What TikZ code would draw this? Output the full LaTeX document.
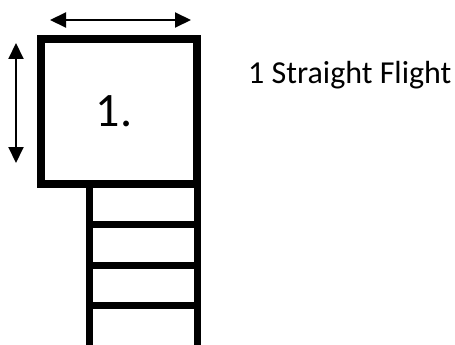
\documentclass[tikz,border=0pt]{standalone}
\usepackage{fontspec}
\setmainfont{Carlito}
\usetikzlibrary{positioning,arrows.meta}
\tikzset{
    landingbox/.style ={
        shape=rectangle,
        draw=black,
        line width=8pt,
        outer sep=0pt,
        minimum width=156pt,
        minimum height=145pt,
        font=\fontsize{48}{50}\selectfont
    },
    stepbox/.style ={
        shape=rectangle,
        draw=black,
        line width=7pt,
        outer sep=0pt,
        minimum width=107.5pt,
        minimum height=40.5pt
    },
    dimarrow/.style ={
        line width=2pt,
        {Triangle[length=16pt,width=15pt]}-{Triangle[length=16pt,width=15pt]}
    },
    caption/.style ={
        font=\fontsize{32}{34}\selectfont,
        inner sep=0pt
    }
}
\begin{document}
\begin{tikzpicture}[x=1pt,y=-1pt]
    \useasboundingbox (0,0) rectangle (455,345);
    \clip (0,0) rectangle (455,345);
    \node[landingbox] (landing) at (119,111.5) {1.\hspace*{10pt}};
    \node[stepbox,anchor=north east] (tread1) at (landing.south east) {};
    \node[stepbox,below=0pt of tread1] (tread2) {};
    \node[stepbox,below=0pt of tread2] (tread3) {};
    \node[stepbox,below=0pt of tread3,minimum height=50pt] (tread4) {};
    \node[caption,anchor=base west] (title) at ([shift={(51,45)}]landing.north east) {1 Straight Flight};
    % dimension arrows
    \coordinate (wl) at ([shift={(9,-19)}]landing.north west);
    \coordinate (wr) at ([shift={(-6,-19)}]landing.north east);
    \coordinate (ht) at ([shift={(-25,4)}]landing.north west);
    \coordinate (hb) at ([shift={(-25,-21)}]landing.south west);
    \draw[dimarrow] (wl) -- (wr);
    \draw[dimarrow] (ht) -- (hb);
\end{tikzpicture}
\end{document}
